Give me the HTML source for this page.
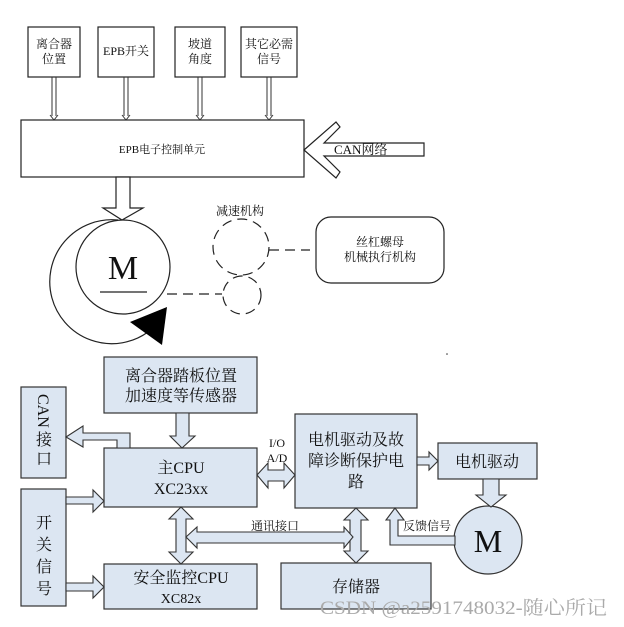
<!DOCTYPE html>
<html><head><meta charset="utf-8"><style>
body{margin:0;background:#fff}
svg{display:block}
text{font-family:"Liberation Serif","Noto Serif CJK SC","Noto Sans CJK SC",serif;fill:#111}
</style></head><body>
<svg width="624" height="627" viewBox="0 0 624 627" xmlns="http://www.w3.org/2000/svg">
<g fill="#fff" stroke="#222" stroke-width="1.2">
<rect x="28" y="27" width="52" height="50"/>
<rect x="98" y="27" width="56" height="50"/>
<rect x="175" y="27" width="50" height="50"/>
<rect x="241" y="27" width="56" height="50"/>
<rect x="21" y="120" width="283" height="57"/>
</g>
<g stroke="#333" stroke-width="1" fill="none">
<path d="M52,77V116M56,77V116M50,115L54,120L58,115"/>
<path d="M124,77V116M128,77V116M122,115L126,120L130,115"/>
<path d="M198,77V116M202,77V116M196,115L200,120L204,115"/>
<path d="M267,77V116M271,77V116M265,115L269,120L273,115"/>
</g>
<g font-size="12" text-anchor="middle">
<text x="54" y="48">离合器</text><text x="54" y="63">位置</text>
<text x="126" y="55">EPB开关</text>
<text x="200" y="48">坡道</text><text x="200" y="63">角度</text>
<text x="269" y="48">其它必需</text><text x="269" y="63">信号</text>
<text x="162" y="153" font-size="11">EPB电子控制单元</text>
</g>
<polygon points="304,150,336,122,340,127,324,143,424,143,424,156,324,156,340,172,336,178" fill="#fff" stroke="#222" stroke-width="1.2"/>
<text x="334" y="154" font-size="13">CAN网络</text>
<polygon points="116,177,130,177,130,208,143,208,122,220,103,208,116,208" fill="#fff" stroke="#222" stroke-width="1.2"/>
<path d="M118,220 A62,62 0 1 0 148,332" fill="none" stroke="#222" stroke-width="1.2"/>
<circle cx="123" cy="267" r="47" fill="#fff" stroke="#222" stroke-width="1.2"/>
<text x="123" y="279" font-size="34" text-anchor="middle">M</text>
<line x1="100" y1="292" x2="147" y2="292" stroke="#222" stroke-width="1.2"/>
<polygon points="130,322,167,307,162,345" fill="#000"/>
<g fill="none" stroke="#222" stroke-width="1.2" stroke-dasharray="10,6">
<line x1="167" y1="294" x2="222" y2="294"/>
<circle cx="242" cy="295" r="19"/>
<circle cx="241" cy="247" r="28"/>
<line x1="269" y1="250" x2="310" y2="250"/>
</g>
<rect x="316" y="217" width="128" height="66" rx="15" fill="#fff" stroke="#222" stroke-width="1.2"/>
<g font-size="12" text-anchor="middle">
<text x="240" y="215">减速机构</text>
<text x="380" y="246">丝杠螺母</text>
<text x="380" y="261">机械执行机构</text>
</g>
<circle cx="447" cy="354" r="0.8" fill="#333"/>
<g fill="#dce6f2" stroke="#333" stroke-width="1.2">
<rect x="104" y="357" width="153" height="56"/>
<rect x="21" y="387" width="45" height="91"/>
<rect x="104" y="448" width="153" height="59"/>
<rect x="21" y="489" width="45" height="117"/>
<rect x="104" y="564" width="153" height="45"/>
<rect x="295" y="414" width="122" height="94"/>
<rect x="438" y="443" width="99" height="36"/>
<rect x="281" y="563" width="150" height="46"/>
<circle cx="488" cy="540" r="34"/>
</g>
<g fill="#dce6f2" stroke="#333" stroke-width="1.1">
<polygon points="176,413,189,413,189,436,195,436,182,448,170,436,176,436"/>
<polygon points="130,448,117,448,117,440,83,440,83,447,66,437,83,426,83,433,130,433"/>
<polygon points="66,497,93,497,93,490,104,501,93,512,93,504,66,504"/>
<polygon points="66,583,93,583,93,576,104,587,93,598,93,591,66,591"/>
<polygon points="257,475,268,463,268,470,284,470,284,463,295,475,284,488,284,481,268,481,268,488"/>
<polygon points="417,457,429,457,429,452,438,461,429,470,429,465,417,465"/>
<polygon points="483,479,499,479,499,495,506,495,491,507,476,495,483,495"/>
<polygon points="455,536,398,536,398,520,404,520,395,508,386,520,390,520,390,545,455,545"/>
<polygon points="181,507,193,519,186,519,186,552,193,552,181,564,169,552,176,552,176,519,169,519"/>
<polygon points="356,508,368,520,361,520,361,551,368,551,356,563,344,551,350,551,350,520,344,520"/>
<polygon points="186,537,197,527,197,532,344,532,344,527,353,537,344,548,344,543,197,543,197,548"/>
</g>
<g font-size="16" text-anchor="middle">
<text x="181" y="381">离合器踏板位置</text>
<text x="181" y="401">加速度等传感器</text>
<text x="181" y="473">主CPU</text>
<text x="181" y="494">XC23xx</text>
<text x="181" y="583">安全监控CPU</text>
<text x="181" y="603" font-size="14">XC82x</text>
<text x="356" y="445">电机驱动及故</text>
<text x="356" y="466">障诊断保护电</text>
<text x="356" y="487">路</text>
<text x="487" y="467">电机驱动</text>
<text x="356" y="592">存储器</text>
<text x="488" y="552" font-size="32">M</text>
</g>
<text x="38" y="394" font-size="16" transform="rotate(90 38 394)">CAN</text>
<g font-size="16" text-anchor="middle">
<text x="44" y="445">接</text><text x="44" y="464">口</text>
<text x="44" y="528">开</text><text x="44" y="550">关</text><text x="44" y="572">信</text><text x="44" y="594">号</text>
</g>
<g font-size="12" text-anchor="middle">
<text x="277" y="447">I/O</text>
<text x="277" y="462">A/D</text>
<text x="275" y="530">通讯接口</text>
<text x="427" y="530">反馈信号</text>
</g>
<text x="320" y="614" font-family="Liberation Sans,Noto Sans CJK SC,sans-serif" font-size="19" style="fill:#aaa" textLength="287" lengthAdjust="spacingAndGlyphs">CSDN @a2591748032-随心所记</text>
</svg>
</body></html>
